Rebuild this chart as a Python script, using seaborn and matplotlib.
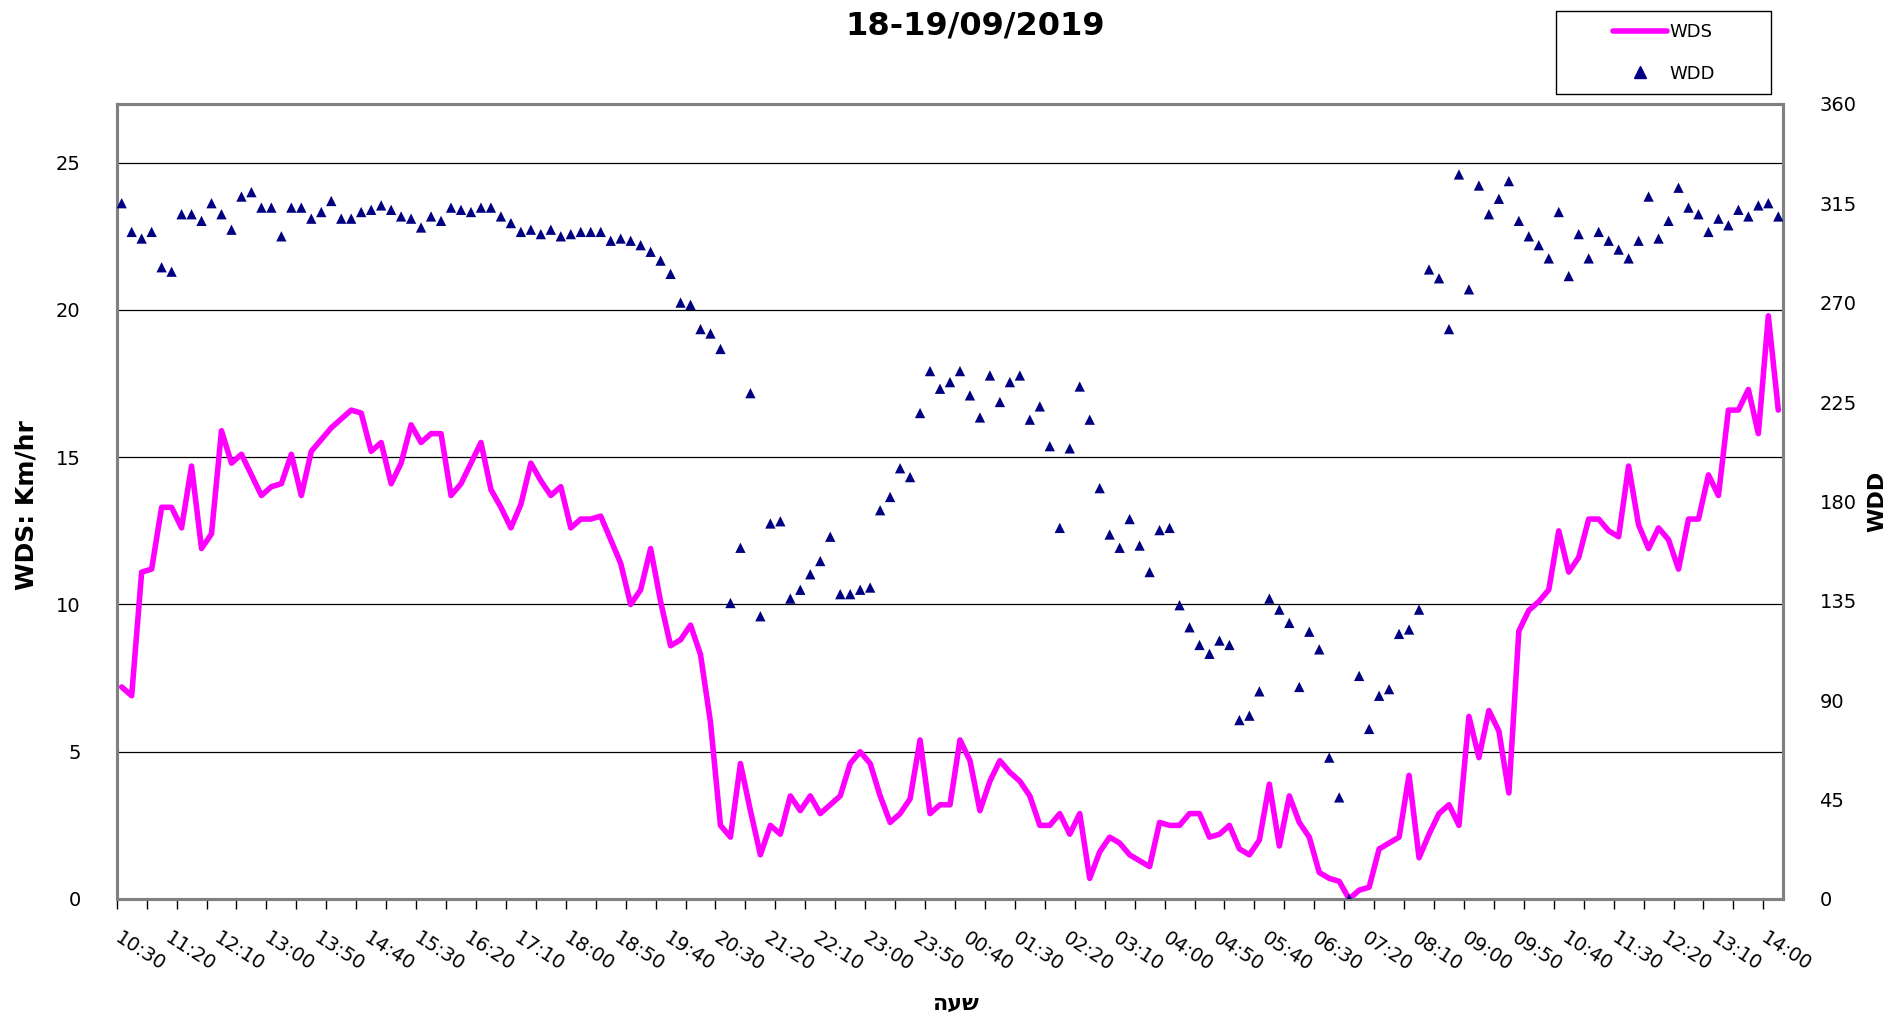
import matplotlib
matplotlib.use("Agg")
import matplotlib.pyplot as plt
import seaborn as sns
import pandas as pd
import numpy as np
from matplotlib.lines import Line2D
from matplotlib.patches import Rectangle

# ---------------- data ----------------
title = "18-19/09/2019"
tick_labels = ["10:30", "11:20", "12:10", "13:00", "13:50", "14:40", "15:30", "16:20",
               "17:10", "18:00", "18:50", "19:40", "20:30", "21:20", "22:10", "23:00",
               "23:50", "00:40", "01:30", "02:20", "03:10", "04:00", "04:50", "05:40",
               "06:30", "07:20", "08:10", "09:00", "09:50", "10:40", "11:30", "12:20",
               "13:10", "14:00"]

wds = [7.2, 6.9, 11.1, 11.2, 13.3, 13.3, 12.6, 14.7, 11.9, 12.4, 15.9, 14.8, 15.1, 14.4, 13.7, 14.0, 14.1,
       15.1, 13.7, 15.2, 15.6, 16.0, 16.3, 16.6, 16.5, 15.2, 15.5, 14.1, 14.8, 16.1, 15.5, 15.8, 15.8, 13.7,
       14.1, 14.8, 15.5, 13.9, 13.3, 12.6, 13.4, 14.8, 14.2, 13.7, 14.0, 12.6, 12.9, 12.9, 13.0, 12.2, 11.4,
       10.0, 10.5, 11.9, 10.1, 8.6, 8.8, 9.3, 8.3, 6.0, 2.5, 2.1, 4.6, 3.0, 1.5, 2.5, 2.2, 3.5,
       3.0, 3.5, 2.9, 3.2, 3.5, 4.6, 5.0, 4.6, 3.5, 2.6, 2.9, 3.4, 5.4, 2.9, 3.2, 3.2, 5.4,
       4.7, 3.0, 4.0, 4.7, 4.3, 4.0, 3.5, 2.5, 2.5, 2.9, 2.2, 2.9, 0.7, 1.6, 2.1, 1.9, 1.5,
       1.3, 1.1, 2.6, 2.5, 2.5, 2.9, 2.9, 2.1, 2.2, 2.5, 1.7, 1.5, 2.0, 3.9, 1.8, 3.5, 2.6,
       2.1, 0.9, 0.7, 0.6, 0.0, 0.3, 0.4, 1.7, 1.9, 2.1, 4.2, 1.4, 2.2, 2.9, 3.2, 2.5, 6.2,
       4.8, 6.4, 5.7, 3.6, 9.1, 9.8, 10.1, 10.5, 12.5, 11.1, 11.6, 12.9, 12.9, 12.5, 12.3, 14.7, 12.7,
       11.9, 12.6, 12.2, 11.2, 12.9, 12.9, 14.4, 13.7, 16.6, 16.6, 17.3, 15.8, 19.8, 16.6]

wdd = [315, 302, 299, 302, 286, 284, 310, 310, 307, 315, 310, 303, 318, 320, 313, 313, 300,
       313, 313, 308, 311, 316, 308, 308, 311, 312, 314, 312, 309, 308, 304, 309, 307, 313,
       312, 311, 313, 313, 309, 306, 302, 303, 301, 303, 300, 301, 302, 302, 302, 298, 299,
       298, 296, 293, 289, 283, 270, 269, 258, 256, 249, 134, 159, 229, 128, 170, 171, 136,
       140, 147, 153, 164, 138, 138, 140, 141, 176, 182, 195, 191, 220, 239, 231, 234, 239,
       228, 218, 237, 225, 234, 237, 217, 223, 205, 168, 204, 232, 217, 186, 165, 159, 172,
       160, 148, 167, 168, 133, 123, 115, 111, 117, 115, 81, 83, 94, 136, 131, 125, 96,
       121, 113, 64, 46, 0, 101, 77, 92, 95, 120, 122, 131, 285, 281, 258, 328, 276,
       323, 310, 317, 325, 307, 300, 296, 290, 311, 282, 301, 290, 302, 298, 294, 290, 298,
       318, 299, 307, 322, 313, 310, 302, 308, 305, 312, 309, 314, 315, 309]

df = pd.DataFrame({"idx": np.arange(len(wds)), "WDS": wds, "WDD": wdd})

# ---------------- figure ----------------
W, H = 1893, 1018
sns.set_style("white")
plt.rcParams["font.family"] = ["DejaVu Sans"]
plt.rcParams["text.color"] = "black"
plt.rcParams["axes.labelcolor"] = "black"
plt.rcParams["xtick.color"] = "black"
plt.rcParams["ytick.color"] = "black"

fig = plt.figure(figsize=(W / 100, H / 100), dpi=100)
ax = fig.add_axes([116.7 / W, 1 - 899 / H, (1783.3 - 116.7) / W, (899 - 103.8) / H])
ax2 = ax.twinx()

magenta = "#FF00FF"
navy = "#000080"

sns.lineplot(data=df, x="idx", y="WDS", ax=ax, color=magenta, linewidth=4.0, zorder=3)
sns.scatterplot(data=df, x="idx", y="WDD", ax=ax2, color=navy, marker="^", s=55,
                edgecolor="none", zorder=4)

n = len(wds)
ax.set_xlim(-0.5, n - 0.5)
ax.set_ylim(0, 27)
ax2.set_ylim(0, 360)
ax.set_yticks(np.arange(0, 26, 5))
ax2.set_yticks(np.arange(0, 361, 45))

ax.grid(axis="y", color="black", linewidth=0.9)
ax.grid(axis="x", visible=False)
ax2.grid(False)
ax.set_axisbelow(True)

# x ticks
ax.set_xticks(np.arange(0, 5 * len(tick_labels), 5))
ax.set_xticklabels(tick_labels, rotation=-33, ha="left", va="top", rotation_mode="anchor",
                   fontsize=14, color="black")
ax.set_xticks(np.arange(-0.5, n, 3), minor=True)
ax.tick_params(axis="x", which="major", length=0, pad=21, labelcolor="black")
ax.tick_params(axis="x", which="minor", length=7, width=1, color="black", direction="out",
               bottom=True)
ax.tick_params(axis="y", which="major", length=0, pad=26, labelsize=14, labelcolor="black")
ax2.tick_params(axis="y", which="major", length=0, pad=26, labelsize=14, labelcolor="black")

for a in (ax, ax2):
    for s in ["left", "right", "top", "bottom"]:
        a.spines[s].set_color("#808080")
        a.spines[s].set_linewidth(2.2)
        a.spines[s].set_visible(True)

ax.set_xlabel("")
ax.set_ylabel("")
ax2.set_ylabel("")

# labels
fig.text(975 / W, 1 - 26 / H, title, ha="center", va="center", fontsize=23, fontweight="bold",
         color="black")
fig.text(27 / W, 1 - 505 / H, "WDS: Km/hr", ha="center", va="center", rotation=90,
         fontsize=18, fontweight="bold", color="black")
fig.text(1877 / W, 1 - 501 / H, "WDD", ha="center", va="center", rotation=90,
         fontsize=16, fontweight="bold", color="black")
fig.text(956 / W, 1 - 1004 / H, "שעה"[::-1], ha="center", va="center",
         fontsize=16, fontweight="bold", color="black")

# legend box
fig.patches.append(Rectangle((1556 / W, 1 - 94 / H), 215 / W, 83 / H, transform=fig.transFigure,
                             fill=False, edgecolor="black", linewidth=1))
handles = [Line2D([0], [0], color=magenta, lw=4),
           Line2D([0], [0], color=navy, marker="^", linestyle="none", markersize=8)]
fig.legend(handles, ["WDS", "WDD"], loc="upper left", bbox_to_anchor=(1606 / W, 1 - 16 / H),
           frameon=False, fontsize=13, handlelength=3.0, handletextpad=0.1,
           labelspacing=1.3, borderaxespad=0, labelcolor="black")

fig.savefig("out.png", dpi=100)
